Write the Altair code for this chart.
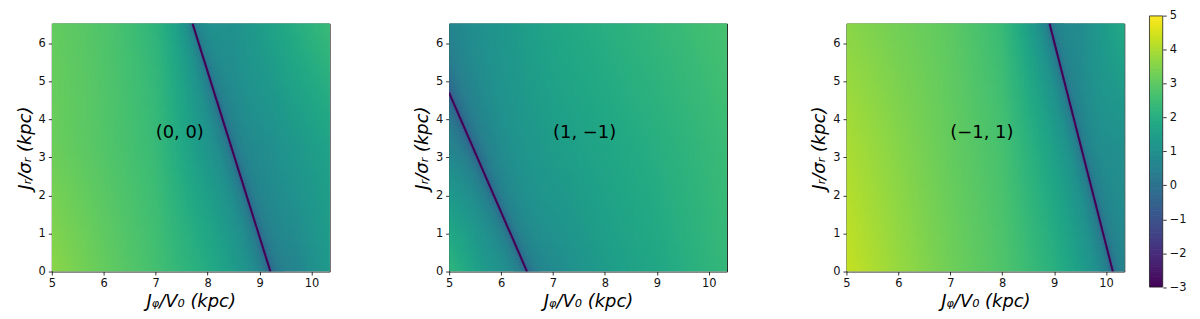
import altair as alt
import numpy as np
import pandas as pd

alt.data_transformers.disable_max_rows()

# ---------------- data ----------------
X_MIN, X_MAX = 5.0, 10.35
Y_MIN, Y_MAX = 0.0, 6.52
V_MIN, V_MAX = -3, 5

X_TICKS = [5, 6, 7, 8, 9, 10]
Y_TICKS = [0, 1, 2, 3, 4, 5, 6]
CBAR_TICKS = [-3, -2, -1, 0, 1, 2, 3, 4, 5]

PANEL_LABELS = ["(0, 0)", "(1, \u22121)", "(\u22121, 1)"]
LABEL_X = [7.0, 7.0, 7.0]
LABEL_Y = [3.64, 3.64, 3.64]

# dark zero-line of each panel: end A (top / left edge) and end B (bottom edge)
LINE_X_A = [7.71, 5.00, 8.91]
LINE_Y_A = [6.52, 4.70, 6.52]
LINE_X_B = [9.21, 6.50, 10.13]
LINE_Y_B = [0.0, 0.0, 0.0]

# colour values read along three rows (y = 0.1, 3.25, 6.4) of each panel
ROW_Y = [0.1, 3.25, 6.4]

P1_ROW_X = [[5, 6, 7, 8, 9.7, 10.35],
            [5, 6, 7, 7.8, 9.2, 10.35],
            [5, 6, 7, 8.5, 9.0, 10.35]]
P1_ROW_V = [[3.6, 3.1, 2.6, 1.9, 0.6, 1.3],
            [3.2, 2.85, 2.4, 1.4, 0.9, 1.6],
            [3.1, 2.8, 2.2, 1.0, 1.4, 2.4]]

P2_ROW_X = [[5, 5.7, 7.2, 8, 9, 10.35],
            [5, 6.2, 7, 8, 9, 10.35],
            [5, 6, 7, 8, 9, 10.35]]
P2_ROW_V = [[2.2, 1.3, 0.9, 1.4, 1.75, 2.35],
            [0.6, 1.0, 1.4, 1.7, 2.0, 2.45],
            [0.55, 1.2, 1.7, 2.0, 2.3, 2.65]]

P3_ROW_X = [[5, 6, 7, 8, 9, 9.7, 10.35],
            [5, 6, 7, 8, 9, 10.35],
            [5, 6, 7, 8, 8.6, 9.5, 10.35]]
P3_ROW_V = [[4.3, 3.75, 3.25, 2.8, 2.05, 1.15, 0.6],
            [4.0, 3.55, 3.1, 2.65, 1.5, 0.95],
            [3.6, 3.3, 3.0, 2.4, 1.3, 0.8, 1.8]]

# ---------------- grid construction ----------------
DY = 0.08
DX_COARSE = 0.06
DX_FINE = 0.015
HALO = 0.25
OVER_X = 0.022
OVER_Y = 0.03


def x_on_line(p, y):
    return LINE_X_B[p] + (LINE_X_A[p] - LINE_X_B[p]) * (y - LINE_Y_B[p]) / (LINE_Y_A[p] - LINE_Y_B[p])


def build_cells(p, rows_x, rows_v):
    bases = []
    for ry, xs, vs in zip(ROW_Y, rows_x, rows_v):
        xs = np.array(xs, float)
        vs = np.array(vs, float)
        d = np.abs(xs - x_on_line(p, ry))
        bases.append((xs, vs - np.log10(np.maximum(d, 1e-3))))
    y_edges = np.append(np.arange(Y_MIN, Y_MAX - 1e-9, DY), Y_MAX)
    coarse = np.append(np.arange(X_MIN, X_MAX - 1e-9, DX_COARSE), X_MAX)
    xs_all, x2_all, ys_all, y2_all, v_all = [], [], [], [], []
    for y0, y1 in zip(y_edges[:-1], y_edges[1:]):
        yc = 0.5 * (y0 + y1)
        xl = x_on_line(p, yc)
        lo, hi = max(X_MIN, xl - HALO), min(X_MAX, xl + HALO)
        if hi > lo:
            edges = coarse[(coarse < lo) | (coarse > hi)]
            edges = np.concatenate([edges, np.arange(lo, hi, DX_FINE), [lo, hi]])
        else:
            edges = coarse
        edges = np.unique(np.round(edges, 5))
        xc = 0.5 * (edges[:-1] + edges[1:])
        brow = np.array([np.interp(xc, bx, bb) for bx, bb in bases])
        if yc <= ROW_Y[1]:
            t = np.clip((yc - ROW_Y[0]) / (ROW_Y[1] - ROW_Y[0]), 0, 1)
            b = brow[0] * (1 - t) + brow[1] * t
        else:
            t = np.clip((yc - ROW_Y[1]) / (ROW_Y[2] - ROW_Y[1]), 0, 1)
            b = brow[1] * (1 - t) + brow[2] * t
        v = b + np.log10(np.maximum(np.abs(xc - xl), 1e-4))
        v = np.clip(v, V_MIN, V_MAX)
        xs_all.append(edges[:-1])
        x2_all.append(edges[1:] + OVER_X)
        ys_all.append(np.full(len(xc), y0))
        y2_all.append(np.full(len(xc), y1 + OVER_Y))
        v_all.append(v)
    return pd.DataFrame({
        "x": np.round(np.concatenate(xs_all), 4),
        "x2": np.round(np.concatenate(x2_all), 4),
        "y": np.round(np.concatenate(ys_all), 4),
        "y2": np.round(np.concatenate(y2_all), 4),
        "v": np.round(np.concatenate(v_all), 3),
    })


PANEL_DATA = [build_cells(0, P1_ROW_X, P1_ROW_V),
              build_cells(1, P2_ROW_X, P2_ROW_V),
              build_cells(2, P3_ROW_X, P3_ROW_V)]

CB_STEP = 0.05
cb_lv = np.arange(V_MIN, V_MAX - 1e-9, CB_STEP)
cb_df = pd.DataFrame({"x": 0.0, "x2": 1.0, "y": cb_lv,
                      "y2": np.minimum(cb_lv + CB_STEP + 0.02, V_MAX),
                      "v": cb_lv + CB_STEP / 2})
frame_df = pd.DataFrame({"x": [0.0], "x2": [1.0], "y": [float(V_MIN)], "y2": [float(V_MAX)]})

# ---------------- styling ----------------
PW, PH = 279, 249
CB_X0, CB_X1 = 304.3, 317.6      # colour bar position relative to 3rd panel
CB_YTOP, CB_YBOT = -7.7, 264.6
FONT = "DejaVu Sans"
ZERO_LINE_COLOR = "#440154"

sx = alt.Scale(domain=[X_MIN, X_MAX], nice=False, zero=False)
sy = alt.Scale(domain=[Y_MIN, Y_MAX], nice=False, zero=False)
sc = alt.Scale(domain=[V_MIN, V_MAX], scheme="viridis", clamp=True)

common_axis = dict(tickSize=3.5, tickColor="black", tickWidth=0.8, labelFontSize=11.5,
                   labelFont=FONT, labelColor="#111", labelPadding=3, grid=False,
                   domain=False, labelFlush=False, labelOverlap=False,
                   titleFont=FONT, titleFontSize=18, titleFontStyle="italic",
                   titleFontWeight="normal", titleColor="black")
xaxis = alt.Axis(values=X_TICKS, format="d", title="J\u1d69/V\u2080 (kpc)", titlePadding=3, **common_axis)
yaxis = alt.Axis(values=Y_TICKS, format="d", title="J\u1d63/\u03c3\u1d63 (kpc)", titlePadding=4, **common_axis)
cbaxis = alt.Axis(values=CBAR_TICKS, format="d", orient="right", offset=CB_X1 - PW, title=None,
                  tickSize=3.5, tickColor="black", tickWidth=0.8, labelFontSize=11.5, labelFont=FONT,
                  labelColor="#111", labelPadding=3, grid=False, domain=False, labelFlush=False,
                  labelOverlap=False, labelBaseline="middle")


def panel(p):
    df = PANEL_DATA[p]
    heat = alt.Chart(df).mark_rect(clip=True, strokeWidth=0).encode(
        x=alt.X("x:Q", scale=sx, axis=xaxis), x2="x2:Q",
        y=alt.Y("y:Q", scale=sy, axis=yaxis), y2="y2:Q",
        color=alt.Color("v:Q", scale=sc, legend=None))
    line_df = pd.DataFrame({"x": [LINE_X_A[p]], "y": [LINE_Y_A[p]],
                            "x2": [LINE_X_B[p]], "y2": [LINE_Y_B[p]]})
    line = alt.Chart(line_df).mark_rule(clip=True, color=ZERO_LINE_COLOR, strokeWidth=2).encode(
        x=alt.X("x:Q", scale=sx, axis=xaxis), x2="x2:Q",
        y=alt.Y("y:Q", scale=sy, axis=yaxis), y2="y2:Q")
    lab_df = pd.DataFrame({"x": [LABEL_X[p]], "y": [LABEL_Y[p]], "t": [PANEL_LABELS[p]]})
    lab = alt.Chart(lab_df).mark_text(align="left", baseline="middle", fontSize=18,
                                      font=FONT, color="black").encode(
        x=alt.X("x:Q", scale=sx, axis=xaxis),
        y=alt.Y("y:Q", scale=sy, axis=yaxis), text="t:N")
    body = alt.layer(heat, line, lab)
    if p == 2:
        cbx = alt.Scale(domain=[0, 1], range=[CB_X0, CB_X1], nice=False, zero=False)
        cby = alt.Scale(domain=[V_MIN, V_MAX], range=[CB_YBOT, CB_YTOP], nice=False, zero=False)
        cb = alt.Chart(cb_df).mark_rect(strokeWidth=0).encode(
            x=alt.X("x:Q", scale=cbx, axis=None), x2="x2:Q",
            y=alt.Y("y:Q", scale=cby, axis=cbaxis), y2="y2:Q",
            color=alt.Color("v:Q", scale=sc, legend=None))
        fr = alt.Chart(frame_df).mark_rect(fillOpacity=0, stroke="#222", strokeWidth=0.8).encode(
            x=alt.X("x:Q", scale=cbx, axis=None), x2="x2:Q",
            y=alt.Y("y:Q", scale=cby, axis=cbaxis), y2="y2:Q")
        body = alt.layer(body, alt.layer(cb, fr)).resolve_scale(x="independent", y="independent")
    return body.properties(width=PW, height=PH)


chart = alt.hconcat(panel(0), panel(1), panel(2), spacing=120, bounds="flush").properties(
    padding={"left": 7, "top": 0, "right": 5, "bottom": 5}
).configure_view(stroke="#222", strokeWidth=1)

chart.save("out.html", embed_options={"renderer": "svg", "actions": False})
